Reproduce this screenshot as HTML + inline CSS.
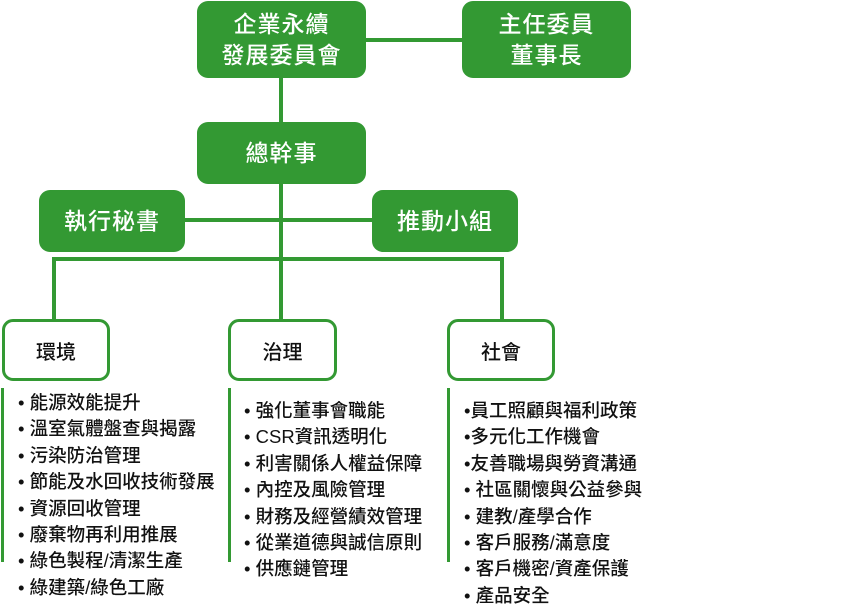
<!DOCTYPE html>
<html><head><meta charset="utf-8"><style>
body{margin:0;width:864px;height:615px;background:#fff;position:relative;overflow:hidden;font-family:"Liberation Sans","Noto Sans CJK TC",sans-serif}
.b{position:absolute;background:#339933;border-radius:11px;color:#fff;font-size:23px;font-weight:500;display:flex;align-items:center;justify-content:center;text-align:center;line-height:31px;letter-spacing:1px}
.o{position:absolute;border:3px solid #339933;border-radius:11px;background:#fff;box-sizing:border-box;color:#111;font-size:20px;font-weight:500;display:flex;align-items:center;justify-content:center}
.l{position:absolute;background:#339933}
.t{position:absolute;font-size:18.5px;font-weight:500;color:#111;white-space:nowrap;line-height:26.4px}
</style></head><body>
<div class="l" style="left:366px;top:38px;width:96px;height:4px"></div>
<div class="l" style="left:279px;top:78px;width:4px;height:182px"></div>
<div class="l" style="left:185px;top:218px;width:187px;height:4px"></div>
<div class="l" style="left:52px;top:257px;width:452px;height:4px"></div>
<div class="l" style="left:52px;top:257px;width:4px;height:64px"></div>
<div class="l" style="left:279px;top:257px;width:4px;height:64px"></div>
<div class="l" style="left:500px;top:257px;width:4px;height:64px"></div>

<div class="b" style="left:197px;top:1px;width:169px;height:77px">企業永續<br>發展委員會</div>
<div class="b" style="left:462px;top:1px;width:169px;height:77px">主任委員<br>董事長</div>
<div class="b" style="left:197px;top:122px;width:169px;height:62px">總幹事</div>
<div class="b" style="left:39px;top:190px;width:146px;height:62px">執行秘書</div>
<div class="b" style="left:372px;top:190px;width:146px;height:62px">推動小組</div>

<div class="o" style="left:2px;top:319px;width:108px;height:62px">環境</div>
<div class="o" style="left:228px;top:319px;width:109px;height:62px">治理</div>
<div class="o" style="left:447px;top:319px;width:108px;height:62px">社會</div>

<div class="l" style="left:1px;top:388px;width:3px;height:174px"></div>
<div class="l" style="left:228px;top:388px;width:3px;height:174px"></div>
<div class="l" style="left:447px;top:388px;width:3px;height:174px"></div>

<div class="t" style="left:18px;top:390px">• 能源效能提升<br>• 溫室氣體盤查與揭露<br>• 污染防治管理<br>• 節能及水回收技術發展<br>• 資源回收管理<br>• 廢棄物再利用推展<br>• 綠色製程/清潔生產<br>• 綠建築/綠色工廠</div>
<div class="t" style="left:244px;top:398px">• 強化董事會職能<br>• CSR資訊透明化<br>• 利害關係人權益保障<br>• 內控及風險管理<br>• 財務及經營績效管理<br>• 從業道德與誠信原則<br>• 供應鏈管理</div>
<div class="t" style="left:464px;top:398px">•員工照顧與福利政策<br>•多元化工作機會<br>•友善職場與勞資溝通<br>• 社區關懷與公益參與<br>• 建教/產學合作<br>• 客戶服務/滿意度<br>• 客戶機密/資產保護<br>• 產品安全</div>
</body></html>
